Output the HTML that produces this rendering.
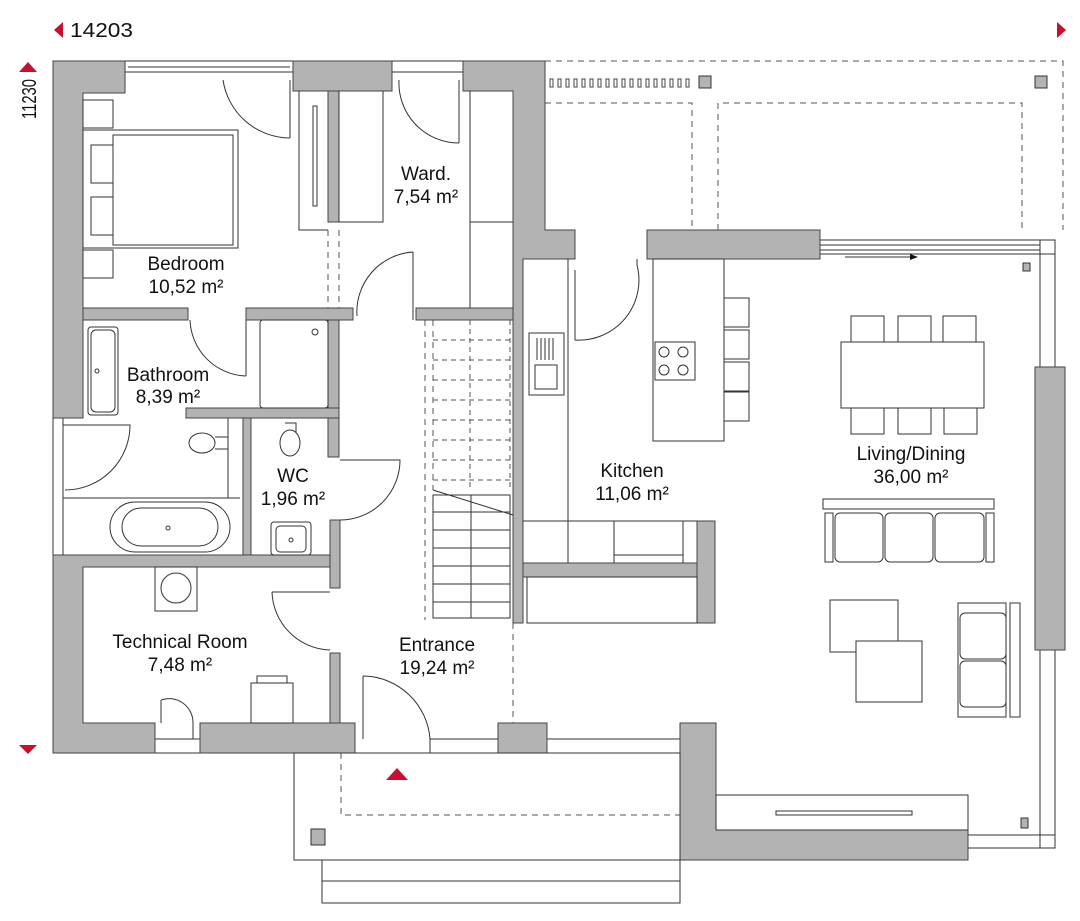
<!DOCTYPE html>
<html><head><meta charset="utf-8"><style>
html,body{margin:0;padding:0;background:#fff;}
svg{display:block;}
text{font-family:"Liberation Sans",sans-serif;fill:#111;}
</style></head><body>
<svg width="1080" height="921" viewBox="0 0 1080 921" xmlns="http://www.w3.org/2000/svg">
<g fill="none" stroke="#333" stroke-width="1">
<polygon points="63,22 63,38 54,30" fill="#c8102e" stroke="none"/>
<polygon points="1057,22 1057,38 1066,30" fill="#c8102e" stroke="none"/>
<polygon points="19,72 37,72 28,62" fill="#c8102e" stroke="none"/>
<polygon points="19,745 37,745 28,754" fill="#c8102e" stroke="none"/>
<polygon points="386,780 408,780 397,768" fill="#c8102e" stroke="none"/>

<g stroke-dasharray="6,5" stroke="#555">
<path d="M545,61 H1063 V230"/>
<path d="M545,103 H692 V230"/>
<path d="M718,230 V103 H1022 V230"/>
<path d="M341,753 V815 H680"/>
<path d="M513,623 V723"/>
<path d="M328,230 V308 M339,230 V308"/>
<path d="M425,320 V620 M433,320 V490"/>
</g>
<g fill="#fff" stroke="#444">
<rect x="550" y="79" width="3" height="8"/><rect x="558" y="79" width="3" height="8"/><rect x="566" y="79" width="3" height="8"/><rect x="574" y="79" width="3" height="8"/><rect x="582" y="79" width="3" height="8"/><rect x="590" y="79" width="3" height="8"/><rect x="598" y="79" width="3" height="8"/><rect x="606" y="79" width="3" height="8"/><rect x="614" y="79" width="3" height="8"/><rect x="622" y="79" width="3" height="8"/><rect x="630" y="79" width="3" height="8"/><rect x="638" y="79" width="3" height="8"/><rect x="646" y="79" width="3" height="8"/><rect x="654" y="79" width="3" height="8"/><rect x="662" y="79" width="3" height="8"/><rect x="670" y="79" width="3" height="8"/><rect x="678" y="79" width="3" height="8"/><rect x="686" y="79" width="3" height="8"/>
</g>
<rect x="699" y="76" width="12" height="12" fill="#b3b3b3"/>
<rect x="1035" y="76" width="12" height="12" fill="#b3b3b3"/>
<rect x="1023" y="263" width="7" height="8" fill="#b3b3b3"/>
<rect x="1021" y="818" width="7" height="10" fill="#b3b3b3"/>
<rect x="311" y="829" width="14" height="16" fill="#b3b3b3"/>

<rect x="125" y="61" width="168" height="11"/>
<path d="M128,67 H290"/>
<rect x="392" y="61" width="71" height="11"/>
<rect x="820" y="240" width="235" height="14"/>
<path d="M820,245 H1040 M820,250 H1040"/>
<rect x="1040" y="240" width="15" height="127"/>
<rect x="1040" y="650" width="15" height="198"/>
<rect x="968" y="835" width="87" height="13"/>
<path d="M53,418 V555 M63,418 V555"/>
<rect x="155" y="739" width="45" height="14"/>
<rect x="430" y="739" width="68" height="14"/>
<rect x="547" y="739" width="133" height="14"/>
<path d="M845,257 H912"/><polygon points="910,254 918,257 910,260" fill="#111" stroke="none"/>

<g fill="#b3b3b3" stroke="#444">
<path d="M53,61 H125 V93 H83 V418 H53 Z"/>
<rect x="293" y="61" width="99" height="30"/>
<path d="M463,61 H513 V61 H545 V230 H575 V259 H523 V623 H513 V91 H463 Z"/>
<rect x="647" y="230" width="173" height="29"/>
<rect x="1035" y="367" width="30" height="283"/>
<rect x="83" y="308" width="105" height="12"/>
<rect x="246" y="308" width="107" height="12"/>
<rect x="416" y="308" width="97" height="12"/>
<rect x="328" y="91" width="11" height="131"/>
<path d="M328,320 H339 V457 H328 Z"/>
<rect x="186" y="408" width="153" height="10"/>
<rect x="243" y="418" width="8" height="137"/>
<rect x="330" y="520" width="10" height="68"/>
<path d="M53,555 H330 V567 H83 V723 H155 V753 H53 Z"/>
<rect x="330" y="653" width="10" height="70"/>
<rect x="200" y="723" width="155" height="30"/>
<rect x="498" y="723" width="49" height="30"/>
<path d="M680,723 H716 V830 H968 V860 H680 Z"/>
<rect x="697" y="521" width="18" height="102"/>
<rect x="523" y="563" width="174" height="14"/>
</g>

<rect x="294" y="753" width="386" height="107"/>
<rect x="322" y="860" width="358" height="43"/>
<path d="M322,881 H680"/>
<rect x="716" y="795" width="252" height="35"/>
<rect x="776" y="811" width="136" height="4"/>

<rect x="83" y="100" width="30" height="28"/>
<rect x="83" y="250" width="30" height="28"/>
<rect x="83" y="130" width="155" height="118"/>
<rect x="113" y="135" width="120" height="110"/>
<rect x="91" y="145" width="22" height="38"/><rect x="91" y="197" width="22" height="38"/>
<path d="M223,80 A68,68 0 0 0 290,138 M290,80 V138"/>
<path d="M299,91 V230 H328"/><rect x="313" y="106" width="4" height="100"/>
<path d="M339,91 V222 H383 V91"/>
<path d="M399,80 A60,60 0 0 0 459,143 M459,80 V143"/>
<path d="M470,91 V308 M470,222 H513"/>
<path d="M413,252 V320 M413,252 A60,60 0 0 0 357,316"/>
<path d="M190,320 A58,58 0 0 0 246,376 M246,320 V376"/>
<rect x="260" y="320" width="68" height="88" rx="3"/>
<circle cx="315" cy="332" r="3"/>
<rect x="88" y="327" width="30" height="88" rx="3"/>
<rect x="91" y="330" width="24" height="82" rx="5"/>
<circle cx="97" cy="371" r="2"/>
<path d="M63,425 H130 A65,65 0 0 1 65,490"/>
<path d="M63,495 V555 M63,498 H240"/>
<rect x="110" y="502" width="120" height="50" rx="25"/>
<rect x="122" y="508" width="96" height="38" rx="19"/>
<circle cx="168" cy="528" r="2"/>
<path d="M228,418 V498"/>
<ellipse cx="202" cy="443" rx="13" ry="10"/><path d="M215,437 H228 V449 H215"/>
<ellipse cx="290" cy="443" rx="10" ry="13"/><path d="M285,423 H296 V432"/>
<rect x="271" y="522" width="40" height="33" rx="3"/><rect x="276" y="526" width="30" height="26" rx="4"/><circle cx="291" cy="540" r="2"/>
<path d="M340,460 H400 A60,60 0 0 1 340,520"/>
<rect x="155" y="567" width="42" height="44"/><circle cx="176" cy="588" r="15"/>
<rect x="251" y="683" width="42" height="40"/><rect x="257" y="676" width="30" height="7"/>
<path d="M161,700 V723 M161,700 A24,24 0 0 1 193,723 V739"/>
<path d="M272,592 H330 M272,592 A60,60 0 0 0 330,650"/>
<path d="M363,676 V739 M363,676 A68,68 0 0 1 430,739"/>
<path d="M433,490 L513,515"/>
<rect x="433" y="495" width="77" height="123"/>
<path d="M433,512 H510 M433,530 H510 M433,548 H510 M433,566 H510 M433,584 H510 M433,602 H510 M471,495 V618"/>
<g stroke-dasharray="5,4" stroke="#555"><path d="M433,340 H510 M433,360 H510 M433,380 H510 M433,400 H510 M433,420 H510 M433,440 H510 M433,460 H510 M433,480 H510 M470,320 V490 M510,320 V490"/></g>
<path d="M568,259 V563 M523,521 H697 M614,521 V563 M683,521 V563 M614,555 H683"/>
<path d="M575,270 V340 A60,60 0 0 0 637,265 V259"/>
<rect x="529" y="333" width="35" height="62"/><rect x="535" y="365" width="22" height="24"/>
<path d="M537,338 V360 M541,338 V360 M545,338 V360 M549,338 V360 M553,338 V360"/>
<rect x="653" y="259" width="71" height="182"/>
<rect x="655" y="342" width="40" height="38"/>
<circle cx="664" cy="352" r="5"/><circle cx="683" cy="352" r="5"/><circle cx="664" cy="370" r="5"/><circle cx="683" cy="370" r="5"/>
<rect x="724" y="298" width="25" height="29"/><rect x="724" y="330" width="25" height="29"/><rect x="724" y="362" width="25" height="29"/><rect x="724" y="392" width="25" height="29"/>
<rect x="527" y="577" width="170" height="46"/>
<rect x="841" y="342" width="143" height="66"/>
<rect x="851" y="316" width="33" height="26"/><rect x="898" y="316" width="33" height="26"/><rect x="943" y="316" width="33" height="26"/>
<rect x="851" y="408" width="33" height="26"/><rect x="898" y="408" width="33" height="26"/><rect x="944" y="408" width="33" height="26"/>
<rect x="823" y="499" width="171" height="10"/>
<rect x="825" y="513" width="8" height="49"/><rect x="986" y="513" width="8" height="49"/>
<rect x="835" y="513" width="48" height="49" rx="5"/><rect x="885" y="513" width="48" height="49" rx="5"/><rect x="935" y="513" width="49" height="49" rx="5"/>
<rect x="830" y="600" width="68" height="52"/>
<rect x="856" y="641" width="66" height="61" fill="#fff"/>
<rect x="958" y="603" width="48" height="114"/>
<rect x="960" y="613" width="46" height="46" rx="5"/><rect x="960" y="661" width="46" height="46" rx="5"/>
<rect x="1010" y="603" width="10" height="114"/>
</g>

<text x="70" y="37" font-size="20" textLength="63" lengthAdjust="spacingAndGlyphs">14203</text>
<text transform="translate(36,119) rotate(-90)" font-size="20" textLength="40" lengthAdjust="spacingAndGlyphs">11230</text>
<g font-size="19" text-anchor="middle">
<text x="186" y="270">Bedroom</text><text x="186" y="293">10,52 m²</text>
<text x="426" y="180">Ward.</text><text x="426" y="203">7,54 m²</text>
<text x="168" y="381">Bathroom</text><text x="168" y="403">8,39 m²</text>
<text x="293" y="482">WC</text><text x="293" y="505">1,96 m²</text>
<text x="180" y="648">Technical Room</text><text x="180" y="671">7,48 m²</text>
<text x="437" y="651">Entrance</text><text x="437" y="674">19,24 m²</text>
<text x="632" y="477">Kitchen</text><text x="632" y="500">11,06 m²</text>
<text x="911" y="460">Living/Dining</text><text x="911" y="483">36,00 m²</text>
</g>
</svg>
</body></html>
